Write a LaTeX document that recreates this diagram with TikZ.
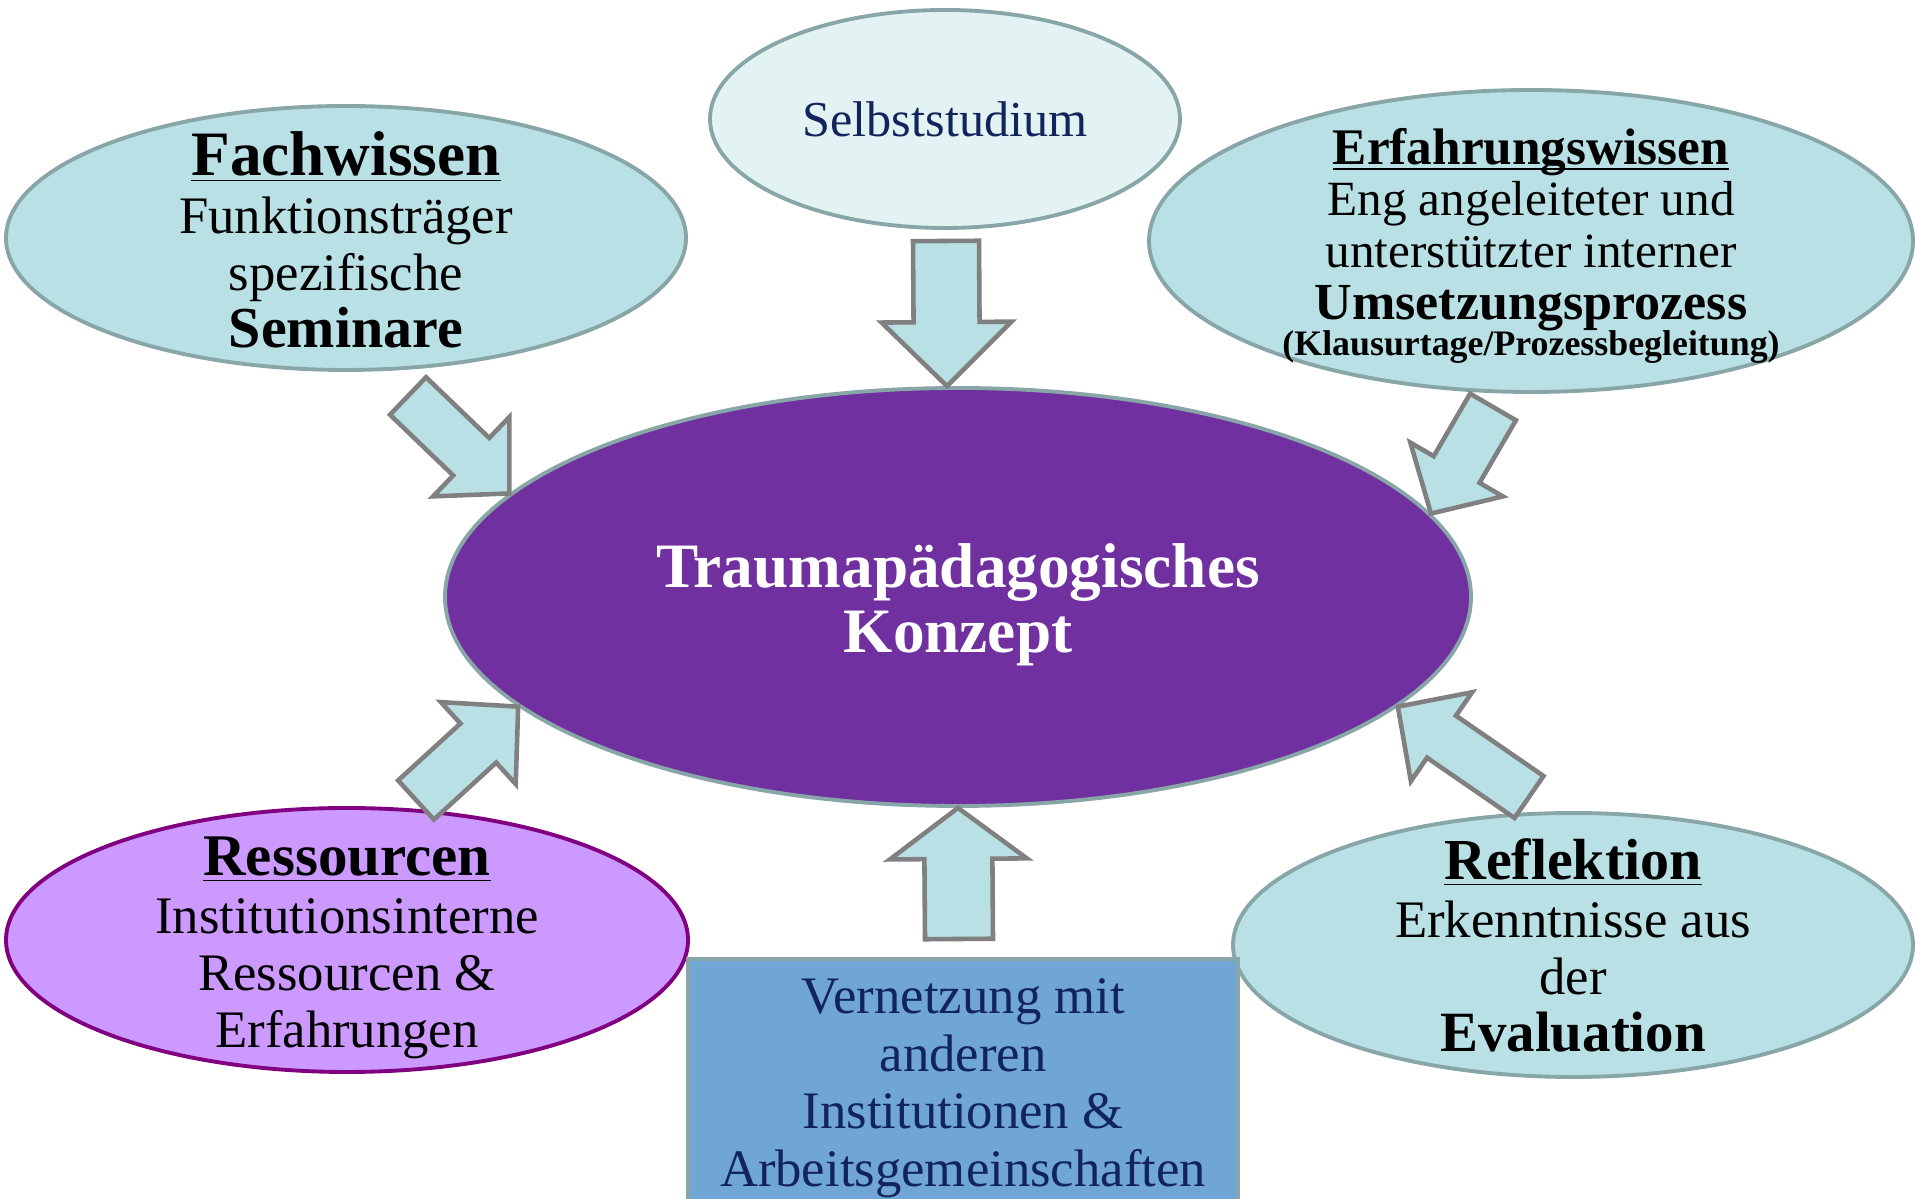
\documentclass[tikz,border=0pt]{standalone}
\usepackage{fontspec}
\setmainfont{Liberation Serif}
\usetikzlibrary{shapes.geometric}
\usetikzlibrary{calc}

\definecolor{hellblau}{RGB}{185,224,228}
\definecolor{blass}{RGB}{227,243,244}
\definecolor{rand}{RGB}{136,166,168}
\definecolor{violett}{RGB}{112,48,160}
\definecolor{flieder}{RGB}{204,153,255}
\definecolor{fliederrand}{RGB}{128,0,128}
\definecolor{netzblau}{RGB}{111,166,214}
\definecolor{marine}{RGB}{18,36,92}
\definecolor{pfeilrand}{RGB}{128,128,128}

\newcommand{\titel}[2][17.5]{{\fontsize{#1}{16.3}\selectfont\bfseries\underline{\smash{#2}}}}
\newcommand{\betont}[2][16.5]{{\fontsize{#1}{16.3}\selectfont\bfseries #2}}
% centred lines of zero size, lowered by #1 (the shape keeps its minimum size)
\newcommand{\zeilen}[2][-0.23cm]{\raisebox{#1}[0pt][0pt]{\begin{tabular}{@{}c@{}}#2\end{tabular}}}
% #1 foot, #2 tip, #3 half shaft, #4 half head, #5 head length
\newcommand{\blockpfeil}[5]{%
  \coordinate (#1-kopf) at ($(#2)!#5!(#1)$);
  \draw [pfeil] ($(#1)!#3!90:(#2)$) -- ($(#1-kopf)!#3!90:(#2)$) -- ($(#1-kopf)!#4!90:(#2)$) -- (#2)
    -- ($(#1-kopf)!#4!-90:(#2)$) -- ($(#1-kopf)!#3!-90:(#2)$) -- ($(#1)!#3!-90:(#2)$) -- cycle;
}

\begin{document}
\begin{tikzpicture}
    [
    bubble/.style={ellipse,draw=rand,line width=1.1pt,fill=hellblau,inner sep=0pt,
      font=\fontsize{15}{16.3}\selectfont},
    pfeil/.style={draw=pfeilrand,fill=hellblau,line width=1.3pt}
    ]
    \useasboundingbox (0,0) rectangle (19.15,11.99);

    \node (kern) at (9.58,6.02) [bubble, fill=violett, text=white, minimum width=10.26cm, minimum height=4.18cm,
      font=\fontsize{18}{18.4}\selectfont\bfseries] {\zeilen[-0.25cm]{Traumapädagogisches\\ Konzept}};
    \node (fach) at (3.46,9.61) [bubble, minimum width=6.80cm, minimum height=2.64cm]
      {\zeilen[-0.25cm]{\titel[18]{Fachwissen}\\ Funktionsträger\\ spezifische\\ \betont{Seminare}}};
    \node (selbst) at (9.45,10.80) [bubble, fill=blass, text=marine, minimum width=4.70cm, minimum height=2.18cm,
      font=\fontsize{14.3}{16}\selectfont] {Selbststudium};
    \node (erf) at (15.31,9.58) [bubble, minimum width=7.64cm, minimum height=3.02cm,
      font=\fontsize{14}{14.7}\selectfont]
      {\zeilen[-0.21cm]{\titel[14.6]{Erfahrungswissen}\\ Eng angeleiteter und\\ unterstützter interner\\
       \betont[14.8]{Umsetzungsprozess}\\[-4.4pt] {\fontsize{10.2}{11}\selectfont\bfseries (Klausurtage/Prozessbegleitung)}}};
    \node (res) at (3.47,2.59) [bubble, fill=flieder, draw=fliederrand, minimum width=6.82cm, minimum height=2.64cm]
      {\zeilen{\titel[16.8]{Ressourcen}\\ Institutionsinterne\\ Ressourcen \&\\ Erfahrungen}};
    \node (ref) at (15.73,2.54) [bubble, minimum width=6.80cm, minimum height=2.64cm]
      {\zeilen[-0.22cm]{\titel[16.5]{Reflektion}\\ Erkenntnisse aus\\ der\\ \betont[16.2]{Evaluation}}};
    \node (netz) at (9.63,1.17) [rectangle, draw=rand, fill=netzblau, line width=1.1pt, text=marine,
      minimum width=5.50cm, minimum height=2.46cm, inner sep=0pt,
      font=\fontsize{15}{16.4}\selectfont] {\zeilen[-0.19cm]{Vernetzung mit\\ anderen\\ Institutionen \&\\ Arbeitsgemeinschaften}};

    \coordinate (selbstfuss) at (9.46,9.58);
    \coordinate (netzfuss) at (9.59,2.60);
    \coordinate (fachfuss) at (4.08,8.03);
    \coordinate (erffuss) at (14.93,7.92);
    \coordinate (resfuss) at (4.16,3.99);
    \coordinate (reffuss) at (15.29,4.02);

    \blockpfeil{selbstfuss}{kern.93}{0.33cm}{0.65cm}{0.64cm}
    \blockpfeil{netzfuss}{kern.south}{0.34cm}{0.685cm}{0.51cm}
    \blockpfeil{fachfuss}{kern.167}{0.26cm}{0.55cm}{0.53cm}
    \blockpfeil{erffuss}{kern.10}{0.265cm}{0.535cm}{0.51cm}
    \blockpfeil{resfuss}{kern.194}{0.265cm}{0.555cm}{0.54cm}
    \blockpfeil{reffuss}{kern.346}{0.255cm}{0.54cm}{0.53cm}
  \end{tikzpicture}
\end{document}
